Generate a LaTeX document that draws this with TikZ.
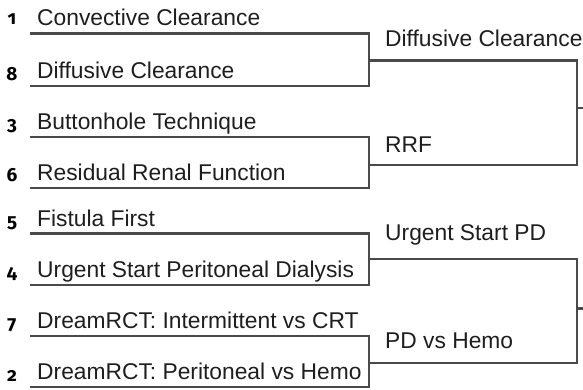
\documentclass[tikz,border=0pt]{standalone}
\usepackage{fontspec}
\setmainfont{Liberation Sans}
\newfontfamily\numfont[Numbers=OldStyle]{Fira Sans}
\definecolor{linegray}{HTML}{4A4A4A}
\definecolor{textblack}{HTML}{1E1E1E}
\begin{document}
\begin{tikzpicture}[x=1pt,y=-1pt,
  lbl/.style={anchor=base west,inner sep=0pt,text=textblack,font=\fontsize{22.8}{27}\selectfont},
  seed/.style={anchor=base,inner sep=0pt,text=black,font=\numfont\bfseries\fontsize{19}{22}\selectfont},
  bracket/.style={draw=linegray,line width=2.4pt,line join=miter,line cap=butt}]
\useasboundingbox (0,0) rectangle (583,390);
% first-round line ends
\foreach \n/\y in {1/33.5,2/86,3/137,4/188,5/233.3,6/285,7/335.7,8/386.7}{
  \coordinate (s\n) at (30,\y);
  \coordinate (e\n) at (369,\y);
}
% second-round line ends
\foreach \n/\y in {1/60.7,2/165,3/259,4/363}{
  \coordinate (t\n) at (370,\y);
  \coordinate (u\n) at (577,\y);
}
\coordinate (f1) at (583,108.3);
\coordinate (f2) at (583,308.3);
% labels, first round
\node[lbl] (a1) at (37,25.8) {Convective Clearance};
\node[lbl] (a2) at (37,78.8) {Diffusive Clearance};
\node[lbl] (a3) at (37,130) {Buttonhole Technique};
\node[lbl] (a4) at (37,181) {Residual Renal Function};
\node[lbl] (a5) at (37,226.3) {Fistula First};
\node[lbl] (a6) at (37,277.6) {Urgent Start Peritoneal Dialysis};
\node[lbl] (a7) at (37,328.3) {DreamRCT: Intermittent vs CRT};
\node[lbl] (a8) at (37,379.5) {DreamRCT: Peritoneal vs Hemo};
% seeds
\node[seed] (n1) at (12,25) {1};
\node[seed] (n2) at (12,81) {8};
\node[seed] (n3) at (12,131) {3};
\node[seed] (n4) at (12,182) {6};
\node[seed] (n5) at (12,227) {5};
\node[seed] (n6) at (12,278.5) {4};
\node[seed] (n7) at (12,329.5) {7};
\node[seed] (n8) at (12,381) {2};
% labels, second round
\node[lbl] (b1) at (385,46.7) {Diffusive Clearance};
\node[lbl] (b2) at (385,152.8) {RRF};
\node[lbl] (b3) at (385,240) {Urgent Start PD};
\node[lbl] (b4) at (385,348.3) {PD vs Hemo};
% brackets
\draw[bracket] (s1) -- (e1) -- (e2) -- (s2);
\draw[bracket] (s3) -- (e3) -- (e4) -- (s4);
\draw[bracket] (s5) -- (e5) -- (e6) -- (s6);
\draw[bracket] (s7) -- (e7) -- (e8) -- (s8);
\draw[bracket] (t1) -- (u1) -- (u2) -- (t2);
\draw[bracket] (t3) -- (u3) -- (u4) -- (t4);
\draw[bracket] (u1 |- f1) -- (f1);
\draw[bracket] (u3 |- f2) -- (f2);
\end{tikzpicture}
\end{document}
